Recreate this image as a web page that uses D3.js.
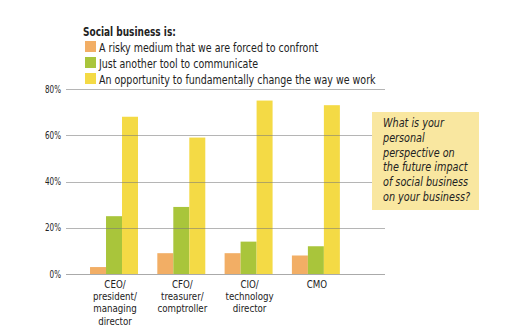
<!DOCTYPE html>
<html><head><meta charset="utf-8">
<script src="https://cdn.jsdelivr.net/npm/d3@7"></script>
<style>
body{margin:0;background:#fff;}
svg text{font-family:"DejaVu Sans Condensed","Liberation Sans Narrow",sans-serif;fill:#222;}
</style></head>
<body><svg id="c" width="516" height="335"></svg>
<script>
const categories = ["CEO/\npresident/\nmanaging\ndirector","CFO/\ntreasurer/\ncomptroller","CIO/\ntechnology\ndirector","CMO"];
const seriesNames = ["A risky medium that we are forced to confront","Just another tool to communicate","An opportunity to fundamentally change the way we work"];
const risky = [3, 9, 9, 8];
const tool = [25, 29, 14, 12];
const opportunity = [68, 59, 75, 73];
const yTicks = [0, 20, 40, 60, 80];
const legendTitle = "Social business is:";
const noteLines = ["What is your","personal","perspective on","the future impact","of social business","on your business?"];

const colors = ["#f2ae65","#a9c53b","#f4da45"];
const series = [risky, tool, opportunity];
const svg = d3.select("#c");

function txt(x, yy, str, size, sx, anchor, extra){
  const g = svg.append("g").attr("transform",`translate(${x},${yy}) scale(${sx},1)`);
  const t = g.append("text").attr("x",0).attr("y",0).attr("font-size",size)
    .attr("text-anchor",anchor||"start").text(str);
  if(extra) extra(t);
  return t;
}

const y = d3.scaleLinear().domain([0,80]).range([274,89]);
const x0 = d3.scaleBand().domain(categories).range([83.3,346.6]).paddingInner(0.287).paddingOuter(0.1);
const x1 = d3.scaleBand().domain([0,1,2]).range([0,x0.bandwidth()]);

// bars
categories.forEach((c,i)=>{
  series.forEach((s,j)=>{
    svg.append("rect").attr("x",x0(c)+x1(j)).attr("width",x1.bandwidth())
      .attr("y",y(s[i])).attr("height",y(0)-y(s[i])).attr("fill",colors[j]);
  });
});

// gridlines on top
yTicks.forEach(t=>{
  svg.append("line").attr("x1",66).attr("x2",385).attr("y1",Math.round(y(t))+0.5).attr("y2",Math.round(y(t))+0.5)
    .attr("stroke", t===0 ? "#aaa" : "rgba(120,120,120,0.55)").attr("stroke-width",1);
});

// y labels
yTicks.forEach(t=>{
  txt(61, y(t)+3.5, t+"%", 10, 0.8, "end");
});

// x labels
categories.forEach(c=>{
  const cx = x0(c)+x0.bandwidth()/2+1;
  c.split("\n").forEach((ln,k)=>{
    txt(cx, 288+k*12.2, ln, 10.5, 0.92, "middle");
  });
});

// legend
txt(83, 36, legendTitle, 12.5, 0.8, "start", t=>t.attr("font-weight","bold"));
seriesNames.forEach((n,j)=>{
  const yy = 41 + j*16;
  svg.append("rect").attr("x",85).attr("y",yy).attr("width",11).attr("height",11).attr("fill",colors[j]);
  txt(99, yy+10.5, n, 12.5, 0.845);
});

// note box
svg.append("rect").attr("x",372).attr("y",112).attr("width",107).attr("height",98).attr("fill","#f9e7a0");
noteLines.forEach((ln,k)=>{
  txt(383, 127+k*14.8, ln, 12.5, 0.86, "start", t=>t.attr("font-style","italic").attr("font-weight","500"));
});
</script></body></html>
